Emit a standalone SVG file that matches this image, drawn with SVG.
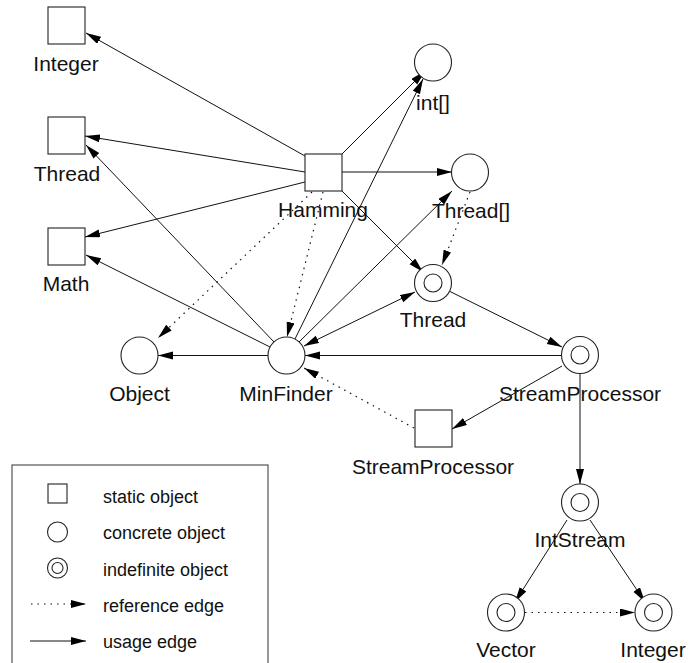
<svg xmlns="http://www.w3.org/2000/svg" width="689" height="663" viewBox="0 0 689 663">
<style>
.n{fill:#fff;stroke:#222;stroke-width:1.1}
.u{stroke:#111;stroke-width:1;fill:none}
.r{stroke:#111;stroke-width:1.2;fill:none;stroke-dasharray:1.5 5}
.t{font-family:"Liberation Sans",Arial,sans-serif;font-size:21px;fill:#111;text-anchor:middle}
.l{font-family:"Liberation Sans",Arial,sans-serif;font-size:18px;fill:#111}
</style>
<defs>
<marker id="a" markerUnits="userSpaceOnUse" markerWidth="16" markerHeight="9" refX="15" refY="4" orient="auto">
<path d="M0,0 L15,4 L0,8 z" fill="#000"/>
</marker>
<marker id="s" markerUnits="userSpaceOnUse" markerWidth="16" markerHeight="9" refX="15" refY="4" orient="auto-start-reverse">
<path d="M0,0 L15,4 L0,8 z" fill="#000"/>
</marker>
</defs>
<rect x="0" y="0" width="689" height="663" fill="#fff"/>
<g id="connectors">
<line class="u" x1="305" y1="156" x2="86" y2="33" marker-end="url(#a)"/>
<line class="u" x1="305" y1="172" x2="85" y2="136" marker-end="url(#a)"/>
<line class="u" x1="305" y1="182" x2="85" y2="237" marker-end="url(#a)"/>
<line class="u" x1="342" y1="154" x2="425" y2="71" marker-end="url(#a)"/>
<line class="u" x1="342" y1="172" x2="452" y2="172" marker-end="url(#a)"/>
<line class="u" x1="342" y1="191" x2="423" y2="272" marker-end="url(#a)"/>
<line class="u" x1="274" y1="342" x2="86" y2="145" marker-end="url(#a)"/>
<line class="u" x1="270" y1="347" x2="86" y2="255" marker-end="url(#a)"/>
<line class="u" x1="295" y1="339" x2="423" y2="79" marker-end="url(#a)"/>
<line class="u" x1="299" y1="342" x2="452" y2="191" marker-end="url(#a)"/>
<line class="u" x1="304" y1="346" x2="415" y2="292" marker-start="url(#s)" marker-end="url(#a)"/>
<line class="u" x1="449" y1="291" x2="562" y2="347" marker-end="url(#a)"/>
<line class="u" x1="562" y1="355.5" x2="305" y2="355.5" marker-end="url(#a)"/>
<line class="u" x1="562" y1="366" x2="452" y2="429" marker-end="url(#a)"/>
<line class="u" x1="268" y1="355.5" x2="158" y2="355.5" marker-end="url(#a)"/>
<line class="u" x1="580" y1="373" x2="580" y2="484" marker-end="url(#a)"/>
<line class="u" x1="567" y1="520" x2="515" y2="602" marker-end="url(#a)"/>
<line class="u" x1="590" y1="520" x2="645" y2="602" marker-end="url(#a)"/>
<line class="r" x1="312" y1="192" x2="158" y2="338" marker-end="url(#a)"/>
<line class="r" x1="323" y1="192" x2="287" y2="337" marker-end="url(#a)"/>
<line class="r" x1="470" y1="192" x2="442" y2="265" marker-end="url(#a)"/>
<line class="r" x1="414" y1="428" x2="304" y2="368" marker-end="url(#a)"/>
<line class="r" x1="525" y1="612.5" x2="635" y2="612.5" marker-end="url(#a)"/>
</g>
<g id="integer-static"><rect class="n" x="48" y="7" width="37" height="37"/><text class="t" x="66" y="71">Integer</text></g>
<g id="thread-static"><rect class="n" x="48" y="117" width="37" height="37"/><text class="t" x="67" y="181">Thread</text></g>
<g id="math-static"><rect class="n" x="48" y="228" width="37" height="37"/><text class="t" x="66" y="291">Math</text></g>
<g id="hamming"><rect class="n" x="305" y="154" width="37" height="37"/><text class="t" x="323" y="217">Hamming</text></g>
<g id="streamprocessor-static"><rect class="n" x="415" y="410" width="37" height="37"/><text class="t" x="433" y="474">StreamProcessor</text></g>
<g id="intarray"><circle class="n" cx="433" cy="62.5" r="18.5"/><text class="t" x="433" y="110">int[]</text></g>
<g id="threadarray"><circle class="n" cx="470" cy="172.5" r="18.5"/><text class="t" x="471" y="218">Thread[]</text></g>
<g id="object"><circle class="n" cx="139.5" cy="355.5" r="18.5"/><text class="t" x="139.5" y="401">Object</text></g>
<g id="minfinder"><circle class="n" cx="286.5" cy="355.5" r="18.5"/><text class="t" x="286" y="401">MinFinder</text></g>
<g id="thread-indef"><circle class="n" cx="433" cy="283" r="18.5"/><circle class="n" cx="433" cy="283" r="9"/><text class="t" x="433" y="327">Thread</text></g>
<g id="streamprocessor-indef"><circle class="n" cx="580" cy="355" r="18.5"/><circle class="n" cx="580" cy="355" r="9"/><text class="t" x="580" y="401">StreamProcessor</text></g>
<g id="intstream"><circle class="n" cx="580" cy="502.5" r="18.5"/><circle class="n" cx="580" cy="502.5" r="9"/><text class="t" x="580" y="547">IntStream</text></g>
<g id="vector"><circle class="n" cx="506" cy="612.5" r="18.5"/><circle class="n" cx="506" cy="612.5" r="9"/><text class="t" x="506" y="657">Vector</text></g>
<g id="integer-indef"><circle class="n" cx="653.5" cy="612.5" r="18.5"/><circle class="n" cx="653.5" cy="612.5" r="9"/><text class="t" x="653" y="657">Integer</text></g>
<g id="legend">
<rect x="12" y="465" width="256" height="220" fill="none" stroke="#333" stroke-width="1"/>
<rect class="n" x="48" y="484" width="19" height="19"/>
<text class="l" x="103" y="503">static object</text>
<circle class="n" cx="57.5" cy="532" r="10"/>
<text class="l" x="103" y="539">concrete object</text>
<circle class="n" cx="57.5" cy="568" r="10"/><circle class="n" cx="57.5" cy="568" r="5.5"/>
<text class="l" x="103" y="576">indefinite object</text>
<line class="r" x1="31" y1="604" x2="86" y2="604" marker-end="url(#a)"/>
<text class="l" x="103" y="612">reference edge</text>
<line class="u" x1="30" y1="641" x2="86" y2="641" marker-end="url(#a)"/>
<text class="l" x="103" y="648">usage edge</text>
</g>
</svg>
